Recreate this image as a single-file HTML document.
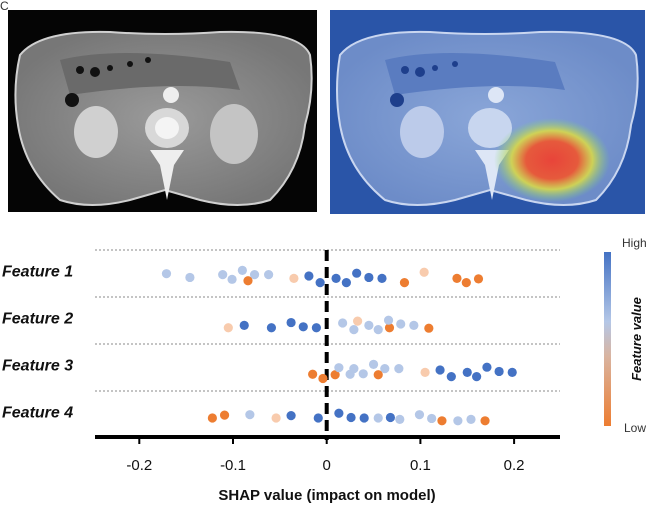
<!DOCTYPE html>
<html><head><meta charset="utf-8">
<style>
body{margin:0;background:#fff;width:653px;height:510px;overflow:hidden;font-family:"Liberation Sans",sans-serif;}
svg{position:absolute;left:0;top:0}
</style></head>
<body>
<svg width="653" height="510" viewBox="0 0 653 510">
<defs>
<radialGradient id="bodyG" cx="50%" cy="50%" r="55%"><stop offset="0" stop-color="#9a9a9a"/><stop offset="1" stop-color="#777"/></radialGradient>
<radialGradient id="bodyB" cx="50%" cy="50%" r="55%"><stop offset="0" stop-color="#8aa6d8"/><stop offset="1" stop-color="#6d8cc8"/></radialGradient>
<radialGradient id="heat" cx="50%" cy="50%" r="50%"><stop offset="0" stop-color="#e8443a"/><stop offset="0.45" stop-color="#e65a3c"/><stop offset="0.7" stop-color="#d8d84a" stop-opacity="0.9"/><stop offset="1" stop-color="#7fd47a" stop-opacity="0"/></radialGradient>
<linearGradient id="cbar" x1="0" y1="0" x2="0" y2="1"><stop offset="0" stop-color="#4472c4"/><stop offset="0.4" stop-color="#b4c7e7"/><stop offset="0.6" stop-color="#d9b4a0"/><stop offset="1" stop-color="#ed7d31"/></linearGradient>
</defs>
<text x="0" y="10" font-size="12" fill="#333">C</text>
<g>
<rect x="8" y="10" width="309" height="202" fill="#050505"/>
<path d="M20 55 Q40 30 110 32 Q165 36 220 32 Q300 30 310 55 Q315 90 305 125 Q300 170 270 200 Q240 210 200 200 L165 190 L130 200 Q90 210 60 200 Q25 170 18 125 Q12 90 20 55Z" fill="url(#bodyG)" stroke="#d0d0d0" stroke-width="2"/>
<path d="M60 60 Q120 45 230 62 L240 90 Q170 80 70 95Z" fill="#6a6a6a"/>
<g fill="#111"><circle cx="80" cy="70" r="4"/><circle cx="95" cy="72" r="5"/><circle cx="110" cy="68" r="3"/><circle cx="130" cy="64" r="3"/><circle cx="72" cy="100" r="7"/><circle cx="148" cy="60" r="3"/></g>
<ellipse cx="171" cy="95" rx="8" ry="8" fill="#eee"/>
<ellipse cx="167" cy="128" rx="22" ry="20" fill="#d8d8d8"/>
<ellipse cx="167" cy="128" rx="12" ry="11" fill="#f4f4f4"/>
<path d="M150 150 L160 165 L167 200 L174 165 L184 150Z" fill="#eee"/>
<ellipse cx="96" cy="132" rx="22" ry="26" fill="#d0d0d0"/>
<ellipse cx="234" cy="134" rx="24" ry="30" fill="#c4c4c4"/>
</g>
<g>
<rect x="330" y="10" width="315" height="204" fill="#2a55a8"/>
<path d="M340 55 Q360 30 430 32 Q485 36 540 32 Q625 30 636 55 Q641 90 631 125 Q626 170 596 200 Q566 210 526 200 L490 190 L455 200 Q415 210 385 200 Q348 170 340 125 Q334 90 340 55Z" fill="url(#bodyB)" stroke="#c9d6f0" stroke-width="2"/>
<path d="M385 60 Q445 45 555 62 L565 90 Q495 80 395 95Z" fill="#5a7cc0"/>
<g fill="#1e3f8c"><circle cx="405" cy="70" r="4"/><circle cx="420" cy="72" r="5"/><circle cx="435" cy="68" r="3"/><circle cx="455" cy="64" r="3"/><circle cx="397" cy="100" r="7"/></g>
<ellipse cx="496" cy="95" rx="8" ry="8" fill="#dde6f6"/>
<ellipse cx="490" cy="128" rx="22" ry="20" fill="#c8d6ef"/>
<path d="M475 150 L485 165 L492 200 L499 165 L509 150Z" fill="#dde6f6"/>
<ellipse cx="422" cy="132" rx="22" ry="26" fill="#bccbea"/>
<ellipse cx="552" cy="160" rx="58" ry="42" fill="url(#heat)"/>
</g>
<g id="chart"></g>
<rect x="604" y="252" width="7" height="174" fill="url(#cbar)"/>
<text x="622" y="247" font-size="12" fill="#333">High</text>
<text x="624" y="432" font-size="12" fill="#333">Low</text>
<text transform="translate(641,339) rotate(-90)" text-anchor="middle" font-size="13" font-weight="bold" font-style="italic" fill="#111">Feature value</text>
<text x="327" y="500" text-anchor="middle" font-size="15" font-weight="bold" fill="#111">SHAP value (impact on model)</text>
</svg>
<script>
const features = ["Feature 1","Feature 2","Feature 3","Feature 4"];
const ticks = [-0.2,-0.1,0,0.1,0.2];
const tickLabels = ["-0.2","-0.1","0","0.1","0.2"];
const f1Shap = [-0.171,-0.146,-0.111,-0.101,-0.090,-0.077,-0.062,-0.084,-0.035,0.104,-0.019,-0.007,0.010,0.021,0.032,0.045,0.059,0.083,0.139,0.149,0.162];
const f1Cls  = [1,1,1,1,1,1,1,3,2,2,0,0,0,0,0,0,0,3,3,3,3];
const f1Jit  = [-0.06,0.02,-0.04,0.06,-0.13,-0.04,-0.04,0.09,0.04,-0.09,-0.01,0.13,0.04,0.13,-0.07,0.02,0.04,0.13,0.04,0.13,0.05];
const f2Shap = [-0.105,-0.088,-0.059,-0.038,-0.025,-0.011,0.017,0.033,0.029,0.045,0.055,0.067,0.066,0.079,0.093,0.109];
const f2Cls  = [2,0,0,0,0,0,1,2,1,1,1,3,1,1,1,3];
const f2Jit  = [0.09,0.04,0.09,-0.02,0.07,0.09,-0.01,-0.05,0.13,0.04,0.13,0.09,-0.07,0.01,0.04,0.10];
const f3Shap = [-0.015,-0.004,0.009,0.013,0.029,0.025,0.039,0.050,0.062,0.055,0.077,0.105,0.121,0.133,0.150,0.160,0.171,0.184,0.198];
const f3Cls  = [3,3,3,1,1,1,1,1,1,3,1,2,0,0,0,0,0,0,0];
const f3Jit  = [0.08,0.17,0.09,-0.06,-0.04,0.08,0.07,-0.13,-0.04,0.09,-0.04,0.04,-0.01,0.13,0.04,0.13,-0.07,0.02,0.04];
const f4Shap = [-0.122,-0.109,-0.082,-0.054,-0.038,-0.009,0.013,0.026,0.040,0.055,0.068,0.078,0.099,0.112,0.123,0.140,0.154,0.169];
const f4Cls  = [3,3,1,2,0,0,0,0,0,1,0,1,1,1,3,1,1,3];
const f4Jit  = [0.01,-0.05,-0.06,0.01,-0.04,0.01,-0.09,0,0.01,0.01,0,0.04,-0.06,0.02,0.07,0.07,0.04,0.07];
const allShap=[f1Shap,f2Shap,f3Shap,f4Shap], allCls=[f1Cls,f2Cls,f3Cls,f4Cls], allJit=[f1Jit,f2Jit,f3Jit,f4Jit];
const colors=["#4472c4","#b4c7e7","#f8cbad","#ed7d31"];
const NS="http://www.w3.org/2000/svg";
const g=document.getElementById('chart');
const xScale=v=>326.7+v*937;
const rowTop=250, rowH=47;
const yRow=i=>rowTop+rowH*(i+0.5);
function mk(t,a){const e=document.createElementNS(NS,t);for(const k in a)e.setAttribute(k,a[k]);g.appendChild(e);return e;}
for(let i=0;i<4;i++){
  const l=mk('line',{x1:95,x2:560,y1:rowTop+rowH*i,y2:rowTop+rowH*i,stroke:'#888','stroke-width':1,'stroke-dasharray':'2,2'});
  
  
  const t=mk('text',{x:2,y:yRow(i)+3,'font-size':16,'font-weight':'bold','font-style':'italic',fill:'#111'});
  t.textContent=features[i];
  
  
}
const z=mk('line',{x1:xScale(0),x2:xScale(0),y1:250,y2:440,stroke:'#000','stroke-width':4,'stroke-dasharray':'11,6'});


for(let i=0;i<4;i++){
  allShap[i].forEach((v,j)=>{
    const c=mk('circle',{cx:xScale(v),cy:yRow(i)+3+allJit[i][j]*rowH,r:4.6,fill:colors[allCls[i][j]]});
    
    
  });
}
const ax=mk('line',{x1:95,x2:560,y1:437,y2:437,stroke:'#000','stroke-width':4});


ticks.forEach((v,i)=>{
  const tk=mk('line',{x1:xScale(v),x2:xScale(v),y1:437,y2:444,stroke:'#000','stroke-width':2});
  
  
  const t=mk('text',{x:xScale(v),y:470,'text-anchor':'middle','font-size':15,fill:'#111'});
  t.textContent=tickLabels[i];
  
  
});
</script>
</body></html>
